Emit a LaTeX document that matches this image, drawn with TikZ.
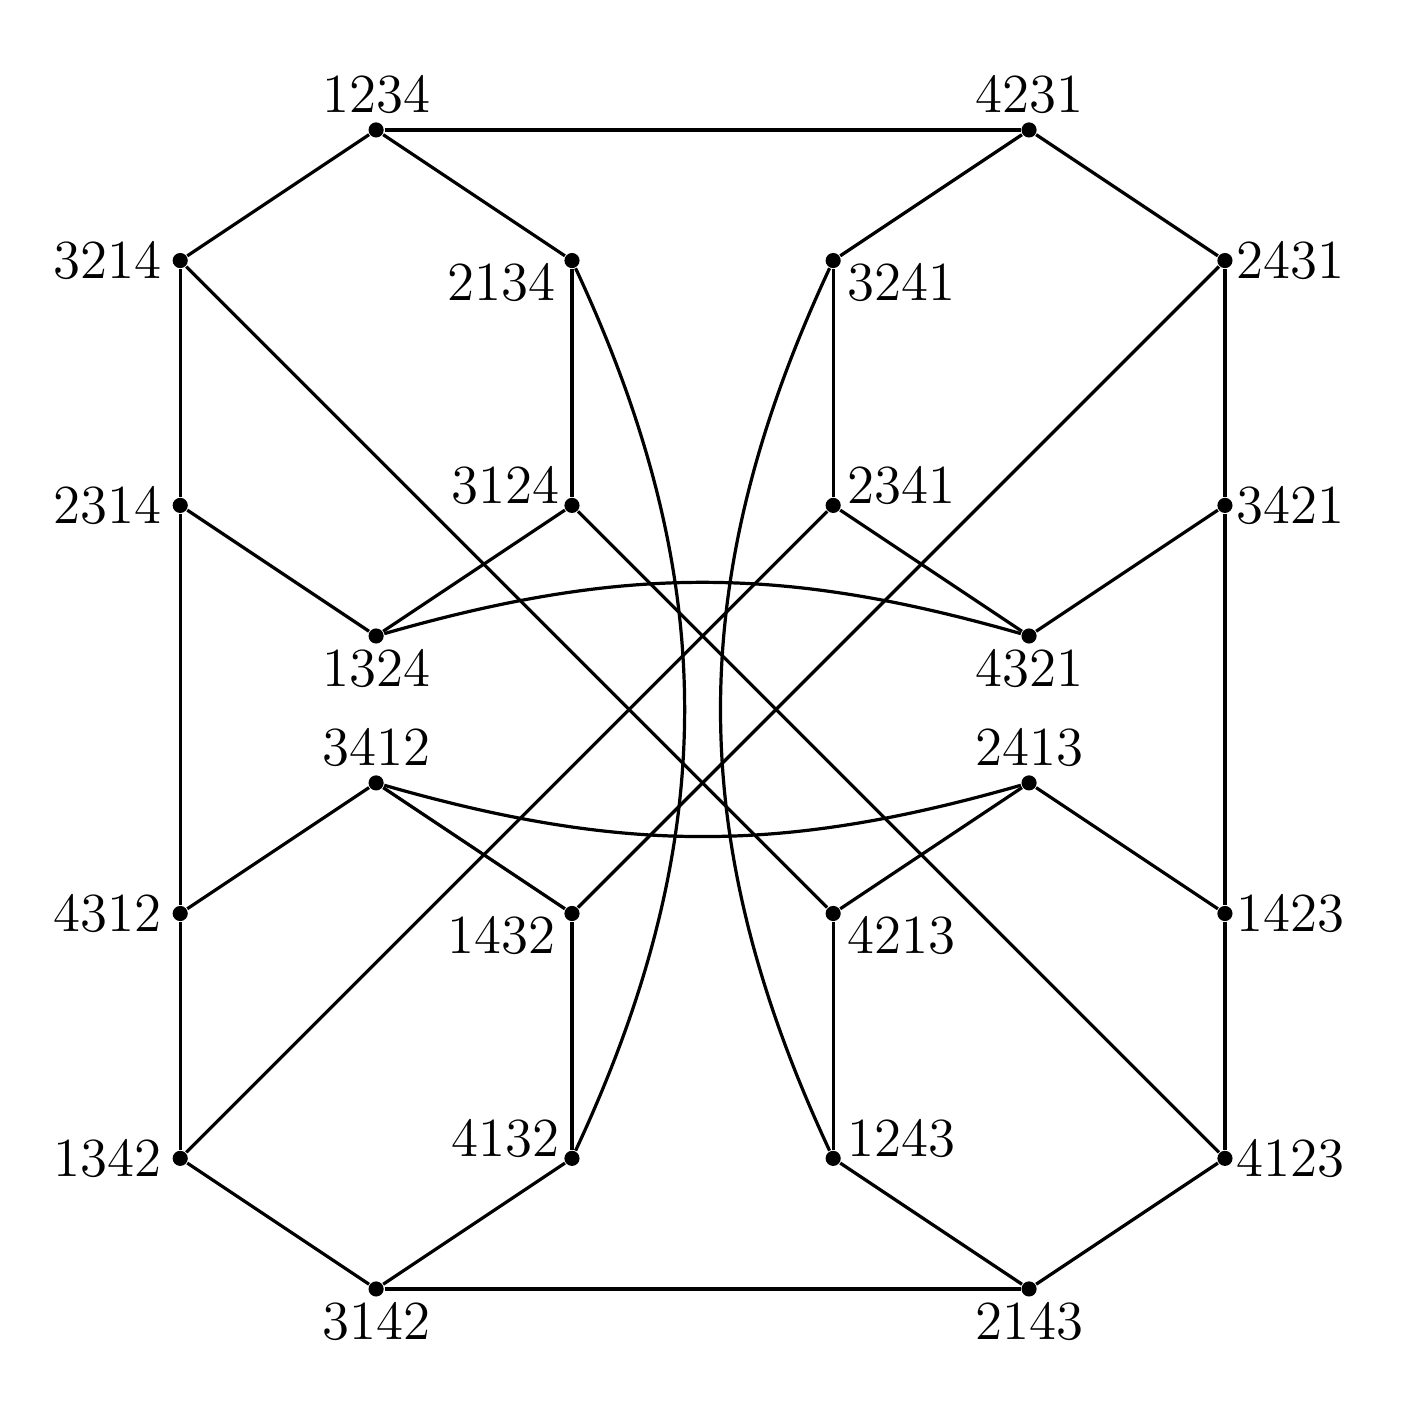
\documentclass[tikz,border=0pt]{standalone}
\usepackage{tikz}
\usetikzlibrary{calc}

\begin{document}
\begin{tikzpicture}[
  x=0.5cm, y=0.5cm,
  vtx/.style={circle, fill=black, inner sep=0pt, minimum size=3.3pt},
  lbl/.style={inner sep=0pt, font=\large},
  edge/.style={line width=0.7pt},
]
\useasboundingbox (-2.76,1.99) rectangle (18.82,-19.65);

\foreach \n/\x/\y in {1234/3/0, 4231/13/0,
    3214/0/-2, 2134/6/-2, 3241/10/-2, 2431/16/-2,
    2314/0/-5.75, 3124/6/-5.75, 2341/10/-5.75, 3421/16/-5.75,
    1324/3/-7.75, 4321/13/-7.75, 3412/3/-10, 2413/13/-10,
    4312/0/-12, 1432/6/-12, 4213/10/-12, 1423/16/-12,
    1342/0/-15.75, 4132/6/-15.75, 1243/10/-15.75, 4123/16/-15.75,
    3142/3/-17.75, 2143/13/-17.75} {
  \node (v\n) [vtx] at (\x, \y) {};
}

\foreach \n/\a/\dx/\dy in {1234/south/0/3.3, 4231/south/0/3.3,
    3214/east/-3.9/0, 2134/north east/-3.5/-0.4, 3241/north west/3/-0.4, 2431/west/2.4/0,
    2314/east/-3.9/0, 3124/south east/-2.6/0, 2341/south west/3/0, 3421/west/2.4/0,
    1324/north/0/-2.8, 4321/north/0/-2.8, 3412/south/0/3.3, 2413/south/0/3.3,
    4312/east/-3.9/0, 1432/north east/-3.5/-0.4, 4213/north west/3/-0.4, 1423/west/2.4/0,
    1342/east/-3.9/0, 4132/south east/-2.6/0, 1243/south west/3/0, 4123/west/2.4/0,
    3142/north/0/-2.8, 2143/north/0/-2.8} {
  \node (l\n) [lbl, anchor=\a] at ([xshift=\dx pt, yshift=\dy pt]v\n.center) {\n};
}

\foreach \a/\b in {1234/4231, 1234/3214, 1234/2134, 4231/3241, 4231/2431,
    3214/2314, 3214/4213, 2134/3124, 3241/2341, 2431/3421, 2431/1432,
    2314/1324, 2314/4312, 3124/1324, 3124/4123, 2341/4321, 2341/1342,
    3421/4321, 3421/1423, 3412/4312, 3412/1432, 2413/4213, 2413/1423,
    4312/1342, 1432/4132, 4213/1243, 1423/4123,
    1342/3142, 4132/3142, 1243/2143, 4123/2143, 3142/2143} {
  \draw[edge] (v\a) -- (v\b);
}

\draw[edge] (v2134) to[bend left=25] (v4132);
\draw[edge] (v3241) to[bend right=25] (v1243);
\draw[edge] (v1324) to[bend left=16] (v4321);
\draw[edge] (v3412) to[bend right=16] (v2413);
\end{tikzpicture}
\end{document}
